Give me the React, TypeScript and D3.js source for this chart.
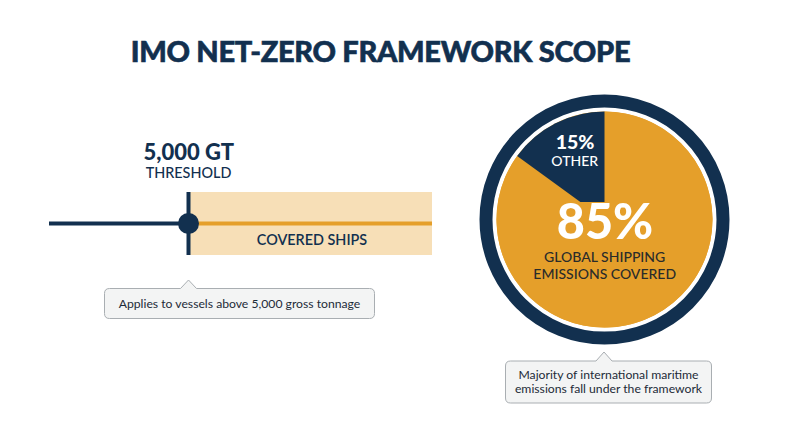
import { arc, pie, scaleLinear } from "d3";

const FONT = "Lato, sans-serif";
const NAVY = "#12304f";
const ORANGE = "#e59f2a";
const PALE = "#f7dfb7";

const title = "IMO NET-ZERO FRAMEWORK SCOPE";

// tonnage line
const tonnageStops = [0, 5000, 13700];
const thresholdLabel = "5,000 GT";
const thresholdSub = "THRESHOLD";
const bandLabel = "COVERED SHIPS";
const tonnageNote = ["Applies to vessels above 5,000 gross tonnage"];

// emissions pie
const shareNames = ["Covered", "Other"];
const shareValues = [85, 15];
const bigLabel = "85%";
const bigSub = ["GLOBAL SHIPPING", "EMISSIONS COVERED"];
const otherLabel = "15%";
const otherSub = "OTHER";
const pieNote = ["Majority of international maritime", "emissions fall under the framework"];

function Callout({ x, y, w, h, tipX, tipH, lines }: { x: number; y: number; w: number; h: number; tipX: number; tipH: number; lines: string[] }) {
  const r = 5;
  const d = `M${x + r},${y} H${tipX - 8} L${tipX},${y - tipH} L${tipX + 8},${y} H${x + w - r} Q${x + w},${y} ${x + w},${y + r} V${y + h - r} Q${x + w},${y + h} ${x + w - r},${y + h} H${x + r} Q${x},${y + h} ${x},${y + h - r} V${y + r} Q${x},${y} ${x + r},${y} Z`;
  const cx = x + w / 2;
  const lineH = 14.5;
  const top = y + h / 2 - ((lines.length - 1) * lineH) / 2 + 4.2;
  return (
    <g>
      <path d={d} fill="#f3f4f4" stroke="#a9aeb2" strokeWidth={1} />
      {lines.map((l, i) => (
        <text key={i} x={cx} y={top + i * lineH} textAnchor="middle" fontSize={12.2} fill="#1d2b38">
          {l}
        </text>
      ))}
    </g>
  );
}

export default function App() {
  const x = scaleLinear().domain(tonnageStops).range([49, 188.5, 432]);
  const bandTop = 192;
  const bandBottom = 255;
  const axisY = 223.5;

  const cx = 604.5;
  const cy = 219.5;
  const slices = pie<number>().sort(null)(shareValues);
  const sliceArc = arc<any>().innerRadius(0).outerRadius(108);

  return (
    <svg width={800} height={447} viewBox="0 0 800 447" style={{ position: "absolute", left: 0, top: 0, display: "block", background: "#fff" }} fontFamily={FONT}>
      <defs>
        <clipPath id="wedgeClip">
          <rect x={-120} y={-120} width={240} height={102.5} />
        </clipPath>
      </defs>
      <text x={380.5} y={61.7} textAnchor="middle" fontSize={29} fontWeight={900} letterSpacing={-0.3} stroke={NAVY} strokeWidth={0.6} fill={NAVY}>
        {title}
      </text>

      {/* threshold line */}
      <rect x={x(5000)} y={bandTop} width={x(13700) - x(5000)} height={bandBottom - bandTop} fill={PALE} />
      <line x1={x(0)} x2={x(5000)} y1={axisY} y2={axisY} stroke={NAVY} strokeWidth={4} />
      <line x1={x(5000)} x2={x(13700)} y1={axisY} y2={axisY} stroke={ORANGE} strokeWidth={4} />
      <line x1={x(5000)} x2={x(5000)} y1={bandTop} y2={bandBottom} stroke={NAVY} strokeWidth={4} />
      <circle cx={x(5000)} cy={axisY} r={10.5} fill={NAVY} />
      <text x={188.8} y={160} textAnchor="middle" fontSize={22} fontWeight={900} fill={NAVY}>
        {thresholdLabel}
      </text>
      <text x={188.5} y={177.5} textAnchor="middle" fontSize={14.4} fontWeight={500} fill={NAVY}>
        {thresholdSub}
      </text>
      <text x={312} y={245} textAnchor="middle" fontSize={14.4} fontWeight={600} fill={NAVY}>
        {bandLabel}
      </text>
      <Callout x={104.5} y={288.5} w={270} h={30} tipX={188.5} tipH={8.5} lines={tonnageNote} />

      {/* pie */}
      <circle cx={cx} cy={cy} r={118.5} fill="#fff" stroke={NAVY} strokeWidth={13} />
      <circle cx={cx} cy={cy} r={108} fill={ORANGE} />
      <g transform={`translate(${cx},${cy})`}>
        {slices.map((s, i) => (
          <path
            key={shareNames[i]}
            d={sliceArc(s) ?? ""}
            fill={i === 0 ? ORANGE : NAVY}
            clipPath={i === 1 ? "url(#wedgeClip)" : undefined}
          />
        ))}
      </g>
      <text x={575} y={149.3} textAnchor="middle" fontSize={19.5} fontWeight={900} fill="#fff">
        {otherLabel}
      </text>
      <text x={574.7} y={166} textAnchor="middle" fontSize={14} fontWeight={500} fill="#fff">
        {otherSub}
      </text>
      <text x={605} y={239} textAnchor="middle" fontSize={48.5} fontWeight={900} fill="#fff">
        {bigLabel}
      </text>
      {bigSub.map((l, i) => (
        <text key={l} x={604.7} y={262.3 + i * 16.7} textAnchor="middle" fontSize={14} fontWeight={500} fill="#2a2c2a">
          {l}
        </text>
      ))}
      <Callout x={505.5} y={361} w={206} h={42} tipX={604} tipH={9} lines={pieNote} />
    </svg>
  );
}
